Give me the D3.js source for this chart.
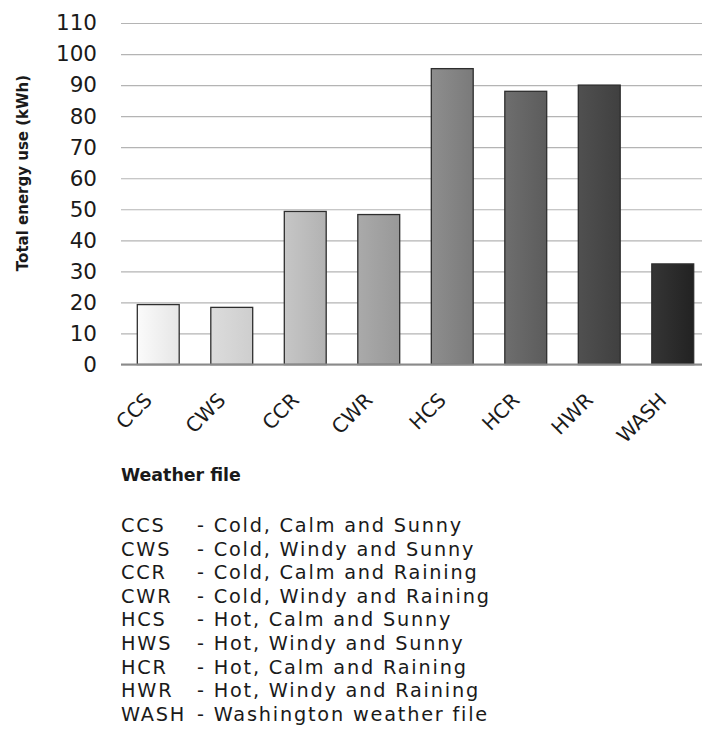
<!DOCTYPE html>
<html>
<head>
<meta charset="utf-8">
<script src="https://cdn.jsdelivr.net/npm/d3@7"></script>
<style>
  html, body { margin: 0; padding: 0; background: #fff; }
  svg { display: block; }
  text { font-family: "DejaVu Sans", sans-serif; fill: #1a1a1a; }
</style>
</head>
<body>
<svg id="chart" width="702" height="735"></svg>
<script>
const categories = ["CCS", "CWS", "CCR", "CWR", "HCS", "HCR", "HWR", "WASH"];
const values = [19.3, 18.4, 49.3, 48.3, 95.3, 88.0, 90.0, 32.4];
const yTicks = [0, 10, 20, 30, 40, 50, 60, 70, 80, 90, 100, 110];
const legendCodes = ["CCS", "CWS", "CCR", "CWR", "HCS", "HWS", "HCR", "HWR", "WASH"];
const legendDescs = [
  "- Cold, Calm and Sunny",
  "- Cold, Windy and Sunny",
  "- Cold, Calm and Raining",
  "- Cold, Windy and Raining",
  "- Hot, Calm and Sunny",
  "- Hot, Windy and Sunny",
  "- Hot, Calm and Raining",
  "- Hot, Windy and Raining",
  "- Washington weather file"
];
const yTitle = "Total energy use (kWh)";
const xTitle = "Weather file";
const barLeftColors  = ["#fbfbfb", "#dcdcdc", "#c6c6c6", "#aaaaaa", "#8e8e8e", "#6e6e6e", "#505050", "#353535"];
const barRightColors = ["#e6e6e6", "#cecece", "#b2b2b2", "#989898", "#7a7a7a", "#5c5c5c", "#404040", "#222222"];

const svg = d3.select("#chart");
const plotLeft = 121, plotRight = 702;
const y = d3.scaleLinear().domain([0, 110]).range([364.5, 23]);
const x = d3.scaleBand().domain(categories).range([121.5, 709.5])
  .paddingInner(0.43).paddingOuter(0.215);

// gradients
const defs = svg.append("defs");
categories.forEach((c, i) => {
  const g = defs.append("linearGradient").attr("id", "g" + i)
    .attr("x1", "0%").attr("x2", "100%").attr("y1", "0%").attr("y2", "0%");
  g.append("stop").attr("offset", "0%").attr("stop-color", barLeftColors[i]);
  g.append("stop").attr("offset", "100%").attr("stop-color", barRightColors[i]);
});

// y axis with gridlines
const yAxis = svg.append("g").attr("transform", `translate(${plotLeft},0)`)
  .call(d3.axisLeft(y).tickValues(yTicks).tickSize(-(plotRight - plotLeft)).tickPadding(24));
yAxis.select(".domain").remove();
yAxis.selectAll(".tick line").attr("stroke", "#b4b4b4").attr("stroke-width", 1.2);
yAxis.selectAll(".tick text")
  .style("font-family", "'DejaVu Sans', sans-serif")
  .style("font-size", "21.5px").style("font-weight", "400").attr("fill", "#1a1a1a");

// bars
svg.append("g").selectAll("rect").data(categories).join("rect")
  .attr("x", d => x(d))
  .attr("y", (d, i) => y(values[i]))
  .attr("width", x.bandwidth())
  .attr("height", (d, i) => y(0) - y(values[i]))
  .attr("fill", (d, i) => `url(#g${i})`)
  .attr("stroke", "#2e2e2e").attr("stroke-width", 1.3);

// zero baseline
svg.append("line").attr("x1", plotLeft).attr("x2", plotRight)
  .attr("y1", y(0)).attr("y2", y(0)).attr("stroke", "#8a8a8a").attr("stroke-width", 2.2);

// x axis labels
const xAxis = svg.append("g").attr("transform", `translate(0,${y(0)})`)
  .call(d3.axisBottom(x).tickSize(0).tickPadding(0));
xAxis.select(".domain").remove();
xAxis.selectAll(".tick text")
  .style("font-family", "'DejaVu Sans', sans-serif")
  .style("font-size", "20px").style("font-weight", "400").attr("fill", "#1a1a1a")
  .attr("text-anchor", "end")
  .attr("dy", null).attr("y", null)
  .attr("transform", "translate(-5,37) rotate(-45)");

// y title
svg.append("text")
  .attr("transform", "translate(28,173) rotate(-90)")
  .attr("text-anchor", "middle")
  .style("font-size", "15px").style("font-weight", "700")
  .text(yTitle);

// x title
svg.append("text").attr("x", 121).attr("y", 481)
  .style("font-size", "17.4px").style("font-weight", "700")
  .text(xTitle);

// legend
const leg = svg.append("g").style("font-size", "19.3px").style("letter-spacing", "1.8px");
legendCodes.forEach((c, i) => {
  const yy = 532 + i * 23.6;
  leg.append("text").attr("x", 121).attr("y", yy).text(c);
  leg.append("text").attr("x", 197).attr("y", yy).text(legendDescs[i]);
});
</script>
</body>
</html>
